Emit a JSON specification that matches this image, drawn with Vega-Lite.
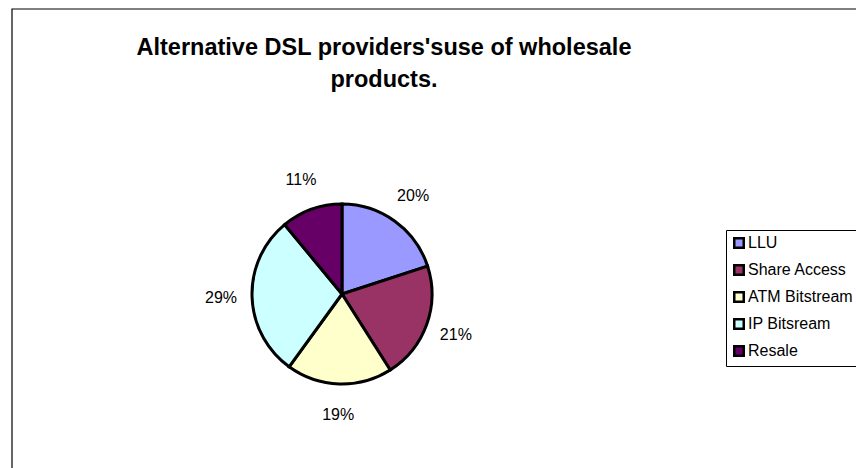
{
  "$schema": "https://vega.github.io/schema/vega-lite/v6.json",
  "autosize": {"type": "none"},
  "padding": {"left": 12, "top": 9, "right": 0, "bottom": 0},
  "width": 860,
  "height": 470,
  "background": "white",
  "config": {
    "view": {"stroke": null},
    "font": "Liberation Sans"
  },
  "title": {
    "text": ["Alternative DSL providers'suse of wholesale", "products."],
    "font": "Liberation Sans",
    "fontSize": 23.5,
    "fontWeight": "bold",
    "color": "black",
    "anchor": "middle",
    "frame": "group",
    "baseline": "top",
    "offset": -83,
    "dx": -58,
    "lineHeight": 32
  },
  "data": {
    "values": [
      {"product": "LLU", "share": 20, "label": "20%", "order": 1},
      {"product": "Share Access", "share": 21, "label": "21%", "order": 2},
      {"product": "ATM Bitstream", "share": 19, "label": "19%", "order": 3},
      {"product": "IP Bitsream", "share": 29, "label": "29%", "order": 4},
      {"product": "Resale", "share": 11, "label": "11%", "order": 5}
    ]
  },
  "layer": [
    {
      "data": {"values": [{"frame": "chart area"}]},
      "mark": {"type": "rect", "fill": "white", "stroke": "black", "strokeWidth": 1.2},
      "encoding": {}
    },
    {
      "mark": {"type": "arc", "outerRadius": 90, "stroke": "black", "strokeWidth": 3, "x": 330, "y": 285},
      "encoding": {
        "theta": {"field": "share", "type": "quantitative", "stack": true},
        "order": {"field": "order", "type": "quantitative", "sort": "ascending"},
        "color": {
          "field": "product",
          "type": "nominal",
          "sort": ["LLU", "Share Access", "ATM Bitstream", "IP Bitsream", "Resale"],
          "scale": {
            "domain": ["LLU", "Share Access", "ATM Bitstream", "IP Bitsream", "Resale"],
            "range": ["#9999FF", "#993366", "#FFFFCC", "#CCFFFF", "#660066"]
          },
          "legend": {
            "orient": "none",
            "legendX": 714,
            "legendY": 221,
            "title": null,
            "strokeColor": "black",
            "fillColor": "white",
            "padding": 5,
            "symbolType": "square",
            "symbolSize": 90,
            "symbolStrokeColor": "black",
            "symbolStrokeWidth": 2.5,
            "labelFont": "Liberation Sans",
            "labelFontSize": 16,
            "labelColor": "black",
            "labelOffset": 1,
            "rowPadding": 7,
            "labelLimit": 300
          }
        }
      }
    },
    {
      "mark": {"type": "text", "radius": 121, "x": 330, "y": 285, "font": "Liberation Sans", "fontSize": 16, "color": "black", "align": "center", "baseline": "middle"},
      "encoding": {
        "theta": {"field": "share", "type": "quantitative", "stack": true},
        "order": {"field": "order", "type": "quantitative", "sort": "ascending"},
        "text": {"field": "label", "type": "nominal"}
      }
    }
  ]
}
